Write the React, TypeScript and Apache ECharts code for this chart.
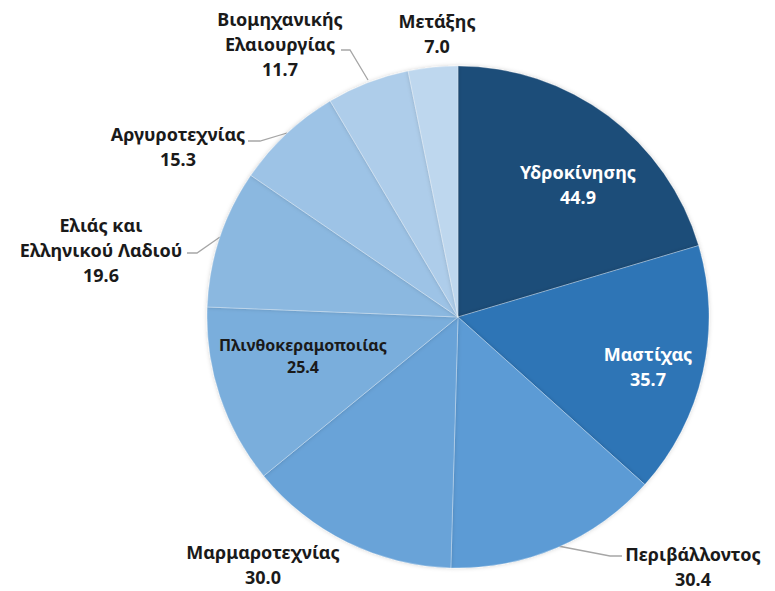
import React, { useEffect, useRef } from "react";
import * as echarts from "echarts";

const categories = [
  "Υδροκίνησης",
  "Μαστίχας",
  "Περιβάλλοντος",
  "Μαρμαροτεχνίας",
  "Πλινθοκεραμοποιίας",
  "Ελιάς και\nΕλληνικού Λαδιού",
  "Αργυροτεχνίας",
  "Βιομηχανικής\nΕλαιουργίας",
  "Μετάξης",
];
const values = [44.9, 35.7, 30.4, 30.0, 25.4, 19.6, 15.3, 11.7, 7.0];

const colors = [
  "#1F4E79",
  "#2E75B6",
  "#5B9BD5",
  "#69A3D8",
  "#7AAEDC",
  "#8BB8E0",
  "#9DC3E6",
  "#AECDEA",
  "#BED7EE",
];

// label placement (pixels) and leader lines, per slice
const labelPos: [number, number][] = [
  [578, 184],
  [648, 366],
  [693, 566],
  [263, 564],
  [303, 356],
  [101, 250],
  [178, 146],
  [280, 44],
  [437, 33],
];
const leaderLines: (number[][] | null)[] = [
  null,
  null,
  [[558, 546], [610, 556], [622, 556]],
  null,
  null,
  [[220, 237], [197, 253], [187, 253]],
  [[287, 133], [260, 141], [248, 141]],
  [[368, 80], [350, 50], [341, 50]],
  null,
];
const insideLabel = [true, true, false, false, true, false, false, false, false];
const insideWhite = [true, true, false, false, false, false, false, false, false];

export default function App() {
  const ref = useRef<HTMLDivElement>(null);
  useEffect(() => {
    if (!ref.current) return;
    const chart = echarts.init(ref.current, undefined, { renderer: "svg" });
    const data = categories.map((name, i) => ({
      name,
      value: values[i],
      itemStyle: { color: colors[i] },
      label: {
        position: insideLabel[i] ? "inside" : "outside",
        color: insideWhite[i] ? "#FFFFFF" : "#1A1A1A",
        fontSize: i === 4 ? 16 : 18,
        lineHeight: i === 4 ? 22 : 25,
      },
      labelLine: { show: !!leaderLines[i] },
    }));
    chart.setOption({
      animation: false,
      backgroundColor: "#FFFFFF",
      series: [
        {
          type: "pie",
          center: [458, 317],
          radius: [0, 251],
          startAngle: 90,
          clockwise: true,
          data,
          itemStyle: {
            borderColor: "rgba(255,255,255,0.45)",
            borderWidth: 0.6,
            shadowBlur: 4,
            shadowColor: "rgba(0,0,0,0.18)",
          },
          label: {
            show: true,
            overflow: "none",
            formatter: (p: any) => `${p.name}\n${Number(p.value).toFixed(1)}`,
            fontFamily: "Noto Sans",
            fontWeight: "bold",
            align: "center",
          },
          labelLine: {
            show: true,
            lineStyle: { color: "#A6A6A6", width: 1.3 },
            smooth: false,
          },
          labelLayout: (params: any) => {
            const i = params.dataIndex;
            const [x, y] = labelPos[i];
            const res: any = { x, y, align: "center", verticalAlign: "middle" };
            if (leaderLines[i]) res.labelLinePoints = leaderLines[i];
            return res;
          },
          emphasis: { disabled: true },
        },
      ],
    });
    return () => chart.dispose();
  }, []);
  return (
    <div
      ref={ref}
      style={{ position: "fixed", left: 0, top: 0, width: 775, height: 591 }}
    />
  );
}
